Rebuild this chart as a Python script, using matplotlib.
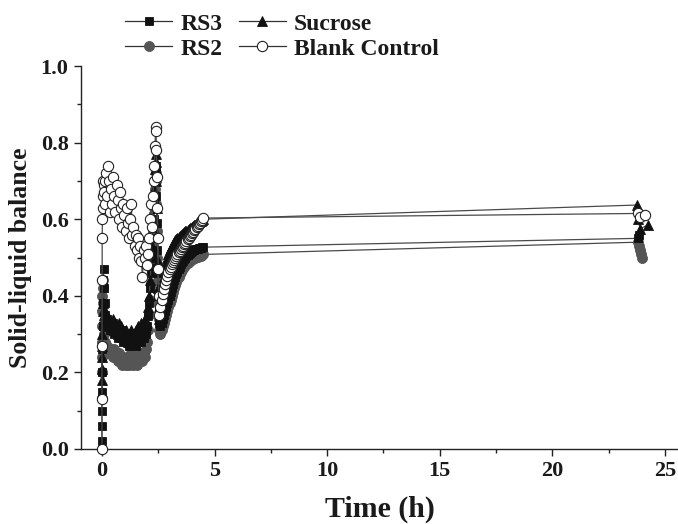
import matplotlib
matplotlib.use("Agg")
import matplotlib.pyplot as plt
from matplotlib.lines import Line2D
from matplotlib.ticker import MultipleLocator

plt.rcParams['font.family'] = ['Liberation Serif', 'DejaVu Serif']
plt.rcParams['font.weight'] = 'bold'

# ---- data -----------------------------------------------------------
# time points of the intensive measuring phase (h)
time_fast = [0.00, 0.00, 0.00, 0.01, 0.01, 0.02, 0.03, 0.04, 0.05, 0.07, 0.09,
             0.12, 0.15, 0.19, 0.23, 0.27, 0.31, 0.35,
             0.40, 0.45, 0.50, 0.55, 0.60, 0.65, 0.70, 0.75, 0.80, 0.85,
             0.90, 0.95, 1.00, 1.05, 1.10, 1.15, 1.20, 1.25, 1.30, 1.35,
             1.40, 1.45, 1.50, 1.55, 1.60, 1.65, 1.70, 1.75, 1.80, 1.85,
             1.90, 1.95, 2.00, 2.05, 2.10,
             2.14, 2.18, 2.22, 2.26, 2.30, 2.33, 2.36, 2.38, 2.40, 2.42,
             2.44, 2.46, 2.48, 2.50, 2.52, 2.55,
             2.60, 2.65, 2.70, 2.75, 2.80, 2.85, 2.90, 2.95, 3.00, 3.05,
             3.10, 3.15, 3.20, 3.25, 3.30, 3.35, 3.40, 3.45, 3.50, 3.55,
             3.60, 3.65, 3.70, 3.75, 3.80, 3.85, 3.90, 3.95, 4.00, 4.05,
             4.10, 4.15, 4.20, 4.25, 4.30, 4.35, 4.40, 4.45, 4.50]

rs3_fast = [0.02, 0.06, 0.10, 0.15, 0.20, 0.26, 0.32, 0.38, 0.44, 0.47, 0.42,
            0.38, 0.35, 0.33, 0.34, 0.32, 0.33, 0.31,
            0.32, 0.31, 0.33, 0.30, 0.32, 0.31, 0.29, 0.31, 0.30, 0.29,
            0.31, 0.28, 0.30, 0.29, 0.28, 0.30, 0.27, 0.29, 0.28, 0.30,
            0.28, 0.29, 0.27, 0.29, 0.28, 0.30, 0.29, 0.28, 0.30, 0.29,
            0.31, 0.30, 0.32, 0.35, 0.38,
            0.42, 0.46, 0.50, 0.55, 0.60, 0.65, 0.70, 0.74, 0.72, 0.66,
            0.59, 0.52, 0.46, 0.40, 0.36, 0.33,
            0.32, 0.33, 0.34, 0.35, 0.36, 0.37, 0.38, 0.39, 0.40, 0.41,
            0.42, 0.43, 0.44, 0.448, 0.456, 0.463, 0.470, 0.476, 0.482, 0.487,
            0.492, 0.496, 0.500, 0.504, 0.507, 0.510, 0.513, 0.515, 0.517, 0.519,
            0.520, 0.521, 0.522, 0.523, 0.524, 0.525, 0.526, 0.527, 0.527]

rs2_fast = [0.20, 0.24, 0.28, 0.32, 0.36, 0.40, 0.44, 0.42, 0.38, 0.33, 0.30,
            0.28, 0.27, 0.26, 0.27, 0.25, 0.26, 0.25,
            0.26, 0.25, 0.24, 0.26, 0.25, 0.24, 0.23, 0.25, 0.24, 0.23,
            0.22, 0.24, 0.23, 0.22, 0.24, 0.23, 0.22, 0.23, 0.25, 0.23,
            0.22, 0.24, 0.23, 0.22, 0.24, 0.23, 0.25, 0.24, 0.23, 0.25,
            0.24, 0.26, 0.28, 0.31, 0.35,
            0.39, 0.43, 0.48, 0.53, 0.58, 0.63, 0.68, 0.72, 0.70, 0.64,
            0.57, 0.50, 0.44, 0.38, 0.34, 0.31,
            0.30, 0.31, 0.32, 0.33, 0.34, 0.35, 0.36, 0.37, 0.38, 0.39,
            0.40, 0.41, 0.42, 0.428, 0.436, 0.443, 0.450, 0.456, 0.462, 0.467,
            0.472, 0.476, 0.480, 0.483, 0.486, 0.489, 0.491, 0.493, 0.495, 0.497,
            0.499, 0.500, 0.501, 0.502, 0.503, 0.504, 0.505, 0.506, 0.508]

sucrose_fast = [0.15, 0.18, 0.21, 0.24, 0.27, 0.30, 0.33, 0.36, 0.38, 0.35, 0.33,
                0.36, 0.34, 0.33, 0.35, 0.32, 0.34, 0.33,
                0.33, 0.32, 0.34, 0.31, 0.33, 0.32, 0.30, 0.33, 0.31, 0.32,
                0.30, 0.31, 0.29, 0.31, 0.30, 0.28, 0.30, 0.29, 0.31, 0.28,
                0.30, 0.29, 0.31, 0.30, 0.32, 0.30, 0.31, 0.33, 0.31, 0.32,
                0.34, 0.33, 0.35, 0.37, 0.40,
                0.44, 0.48, 0.53, 0.58, 0.63, 0.68, 0.73, 0.77, 0.75, 0.70,
                0.63, 0.56, 0.49, 0.42, 0.37, 0.34,
                0.37, 0.40, 0.43, 0.45, 0.47, 0.485, 0.50, 0.51, 0.52, 0.525,
                0.53, 0.535, 0.54, 0.545, 0.548, 0.551, 0.554, 0.557, 0.560, 0.562,
                0.564, 0.566, 0.568, 0.570, 0.572, 0.574, 0.576, 0.578, 0.580, 0.582,
                0.584, 0.586, 0.588, 0.590, 0.592, 0.594, 0.596, 0.598, 0.600]

blank_fast = [0.00, 0.13, 0.27, 0.44, 0.55, 0.60, 0.63, 0.66, 0.70, 0.69, 0.67,
              0.70, 0.64, 0.72, 0.66, 0.74, 0.70, 0.62,
              0.68, 0.64, 0.71, 0.66, 0.62, 0.69, 0.65, 0.60, 0.67, 0.63,
              0.58, 0.64, 0.61, 0.57, 0.63, 0.59, 0.55, 0.60, 0.64, 0.56,
              0.58, 0.53, 0.56, 0.52, 0.55, 0.50, 0.53, 0.49, 0.45, 0.52,
              0.50, 0.53, 0.48, 0.51, 0.55,
              0.60, 0.64, 0.58, 0.66, 0.70, 0.74, 0.79, 0.84, 0.83, 0.78,
              0.71, 0.63, 0.55, 0.47, 0.40, 0.35,
              0.370, 0.390, 0.405, 0.418, 0.430, 0.442, 0.452, 0.461, 0.469, 0.476,
              0.482, 0.488, 0.494, 0.499, 0.504, 0.509, 0.514, 0.518, 0.523, 0.527,
              0.531, 0.535, 0.539, 0.543, 0.547, 0.551, 0.555, 0.559, 0.563, 0.567,
              0.571, 0.575, 0.579, 0.583, 0.587, 0.591, 0.595, 0.599, 0.603]

# final measurement after ~24 h
rs3_t24 = [23.80, 23.85]
rs3_v24 = [0.550, 0.560]
rs2_t24 = [23.80, 23.85, 23.90, 23.95, 24.00]
rs2_v24 = [0.540, 0.530, 0.520, 0.510, 0.500]
sucrose_t24 = [23.75, 23.80, 23.90, 24.25]
sucrose_v24 = [0.637, 0.600, 0.575, 0.585]
blank_t24 = [23.80, 23.90, 24.10]
blank_v24 = [0.615, 0.605, 0.610]

series_names = ['RS3', 'RS2', 'Sucrose', 'Blank Control']
x_ticks = [0, 5, 10, 15, 20, 25]
y_ticks = [0.0, 0.2, 0.4, 0.6, 0.8, 1.0]

# ---- figure ---------------------------------------------------------
W, H = 678, 524
fig = plt.figure(figsize=(W / 100, H / 100), dpi=100)
ax = fig.add_axes([81 / W, 1 - 449 / H, (678 - 81) / W, (449 - 66) / H])

line_kw = dict(color='#4a4a4a', lw=0.9, clip_on=False)

styles = {
    'RS2': dict(marker='o', ms=7.2, mfc='#555555', mec='#555555', mew=0.6),
    'RS3': dict(marker='s', ms=5.6, mfc='#111111', mec='#111111', mew=0.6),
    'Sucrose': dict(marker='^', ms=7.2, mfc='#111111', mec='#111111', mew=0.6),
    'Blank Control': dict(marker='o', ms=7.4, mfc='white', mec='#222222', mew=0.8),
}

data = {
    'RS2': (time_fast + rs2_t24, rs2_fast + rs2_v24),
    'RS3': (time_fast + rs3_t24, rs3_fast + rs3_v24),
    'Sucrose': (time_fast + sucrose_t24, sucrose_fast + sucrose_v24),
    'Blank Control': (time_fast + blank_t24, blank_fast + blank_v24),
}

for z, name in enumerate(['RS2', 'RS3', 'Sucrose', 'Blank Control']):
    t, v = data[name]
    ax.plot(t, v, ls='-', zorder=3 + z, **line_kw, **styles[name])

ax.set_xlim(-0.93, 25.58)
ax.set_ylim(0.0, 1.0)
ax.set_xticks(x_ticks)
ax.set_yticks(y_ticks)
ax.xaxis.set_minor_locator(MultipleLocator(2.5))
ax.yaxis.set_minor_locator(MultipleLocator(0.1))
ax.set_xticklabels([str(x) for x in x_ticks])
ax.set_yticklabels(['%.1f' % y for y in y_ticks])

for s in ['top', 'right']:
    ax.spines[s].set_visible(False)
for s in ['left', 'bottom']:
    ax.spines[s].set_linewidth(1.0)
    ax.spines[s].set_color('#222222')

ax.tick_params(which='major', direction='out', length=5, width=1.0,
               labelsize=16, colors='#222222', pad=4)
ax.tick_params(which='minor', direction='out', length=3, width=1.0,
               colors='#222222')
for lab in ax.get_xticklabels() + ax.get_yticklabels():
    lab.set_fontweight('bold')
    lab.set_color('#1a1a1a')

ax.set_xlabel('Time (h)', fontsize=21.5, fontweight='bold', color='#1a1a1a',
              labelpad=10.5)
ax.set_ylabel('Solid-liquid balance', fontsize=18.5, fontweight='bold',
              color='#1a1a1a', labelpad=6)

handles = [Line2D([0], [0], ls='-', color='#333333', lw=0.9, **styles[n])
           for n in series_names]
leg = fig.legend(handles, series_names, ncol=2, loc='upper left',
                 bbox_to_anchor=(125 / W, 1 - 13 / H),
                 frameon=False, borderpad=0, borderaxespad=0,
                 handlelength=2.0, handletextpad=0.35, columnspacing=0.68,
                 labelspacing=0.15,
                 prop={'family': 'Liberation Serif', 'weight': 'bold',
                       'size': 17})
for txt in leg.get_texts():
    txt.set_color('#1a1a1a')

fig.savefig('out.png', dpi=100)
